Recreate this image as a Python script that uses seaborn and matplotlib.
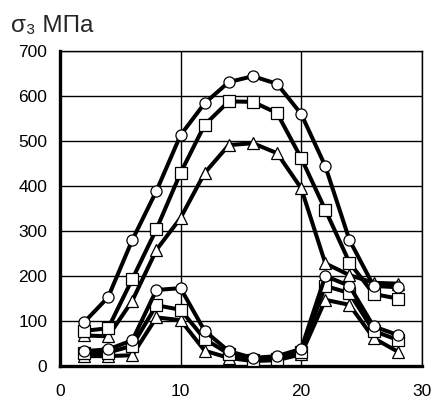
import matplotlib
matplotlib.use("Agg")
import matplotlib.pyplot as plt
import seaborn as sns
import pandas as pd

# ---- data ----
x_pos = [2, 4, 6, 8, 10, 12, 14, 16, 18, 20, 22, 24, 26, 28]
hi_circle = [97, 153, 280, 389, 513, 584, 631, 644, 627, 560, 444, 280, 178, 175]
hi_square = [78, 84, 193, 304, 429, 536, 588, 587, 562, 462, 347, 230, 160, 150]
hi_tri = [68, 66, 145, 258, 329, 429, 491, 495, 473, 395, 228, 202, 185, 183]
lo_circle = [33, 37, 57, 169, 173, 78, 33, 18, 22, 38, 200, 178, 88, 69]
lo_square = [28, 30, 45, 135, 125, 60, 27, 13, 16, 32, 178, 162, 78, 58]
lo_tri = [22, 22, 24, 108, 102, 34, 18, 11, 13, 26, 147, 136, 62, 32]

x_ticks = [0, 10, 20, 30]
y_ticks = [0, 100, 200, 300, 400, 500, 600, 700]
title_text = "σ₃ МПа"

series = [
    ("lo_tri", lo_tri, "^"),
    ("lo_square", lo_square, "s"),
    ("lo_circle", lo_circle, "o"),
    ("hi_tri", hi_tri, "^"),
    ("hi_square", hi_square, "s"),
    ("hi_circle", hi_circle, "o"),
]

sns.set_style("white")
plt.rcParams["font.family"] = ["Liberation Sans", "DejaVu Sans"]

fig = plt.figure(figsize=(4.34, 4.07), dpi=100)
ax = fig.add_axes([0.138, 0.1007, 0.834, 0.774])

for name, vals, mk in series:
    df = pd.DataFrame({"x": x_pos, "y": vals})
    ms = 9.0 if mk == "^" else 8.0
    sns.lineplot(data=df, x="x", y="y", ax=ax, color="black", linewidth=2.9,
                 marker=mk, markersize=ms, markerfacecolor="white",
                 markeredgecolor="black", markeredgewidth=0.9, zorder=3)

ax.set_xlim(0, 30)
ax.set_ylim(0, 700)
ax.set_xticks(x_ticks)
ax.set_yticks(y_ticks)
ax.set_xticklabels([str(v) for v in x_ticks], fontsize=12.5)
ax.set_yticklabels([str(v) for v in y_ticks], fontsize=12.5)
ax.grid(True, color="black", linewidth=1.0)
ax.set_axisbelow(True)
ax.set_xlabel("")
ax.set_ylabel("")

for side in ["top", "right"]:
    ax.spines[side].set_linewidth(1.0)
    ax.spines[side].set_color("black")
for side in ["left", "bottom"]:
    ax.spines[side].set_linewidth(2.4)
    ax.spines[side].set_color("black")

ax.tick_params(axis="both", which="both", direction="out", length=4,
               width=1.5, color="black", labelcolor="black")
ax.tick_params(axis="y", pad=5)
ax.tick_params(axis="x", pad=9)

fig.text(0.025, 0.935, title_text, fontsize=17.5, ha="left", va="center",
         family=["Liberation Sans", "DejaVu Sans"])

fig.savefig("out.png", dpi=100, facecolor="white")
